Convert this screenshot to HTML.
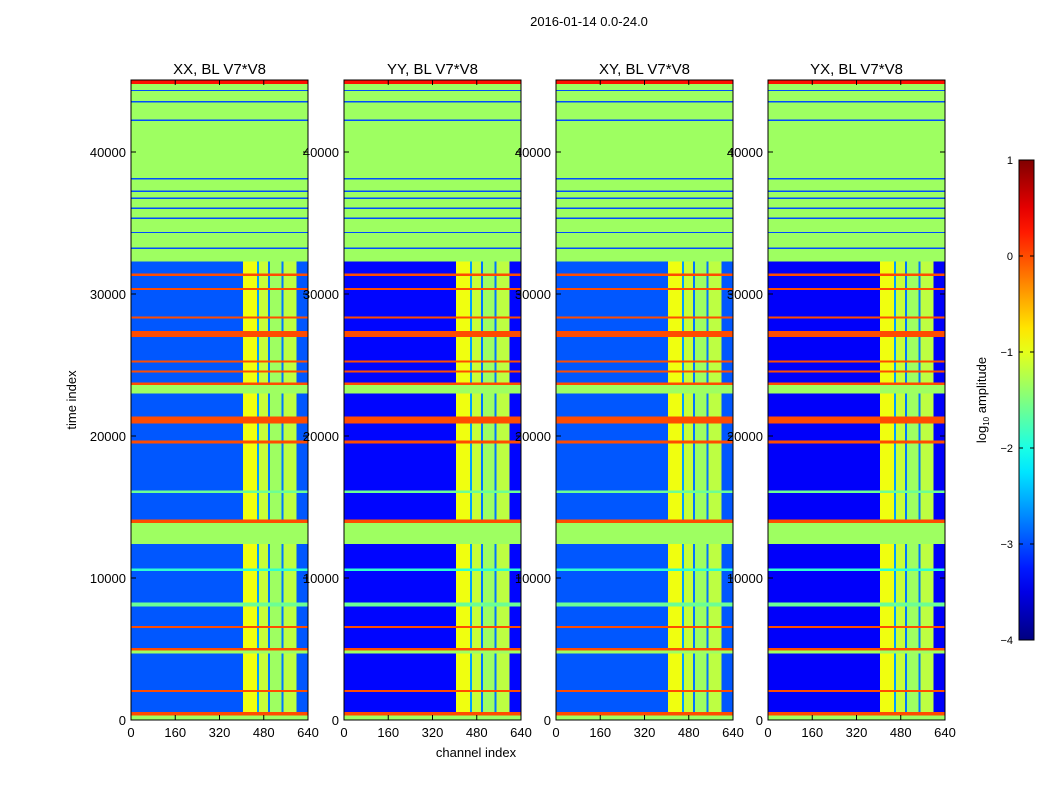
<!DOCTYPE html>
<html><head><meta charset="utf-8"><style>
body{margin:0;background:#fff;}
svg{display:block;font-family:"Liberation Sans",sans-serif;}
</style></head><body>
<svg id="fig" width="1050" height="800" viewBox="0 0 1050 800">
<text x="589" y="26" font-size="13" text-anchor="middle">2016-01-14 0.0-24.0</text>
<text x="76" y="400" font-size="13" text-anchor="middle" transform="rotate(-90 76 400)">time index</text>
<text x="476" y="757" font-size="13" text-anchor="middle">channel index</text>
<g id="panels"></g>
<defs><linearGradient id="jet" x1="0" y1="1" x2="0" y2="0"></linearGradient></defs>
<g id="cbar"></g>
<text x="986" y="400" font-size="13" text-anchor="middle" transform="rotate(-90 986 400)">log<tspan font-size="8" dy="3">10</tspan><tspan dy="-3"> amplitude</tspan></text>
</svg>
<script>
// ---- data ----
const panelTitles = ["XX, BL V7*V8","YY, BL V7*V8","XY, BL V7*V8","YX, BL V7*V8"];
const panelDataBase = [-2.95, -3.35, -2.95, -3.4];
// time bands: start, end, level (null = data row)
const bandStart = [0,350,600,2000,2150,4700,4900,5100,6500,6650,8000,8300,10500,10700,12400,13900,14150,16000,16200,19500,19700,20900,21400,23000,23600,23800,24500,24650,25200,25350,27000,27400,28300,28450,30300,30450,31300,31450,32300,33200,33300,34300,34400,35300,35400,36000,36100,36700,36800,37200,37300,38100,38200,42200,42300,43500,43600,44300,44400,44800];
const bandEnd   = [350,600,2000,2150,4700,4900,5100,6500,6650,8000,8300,10500,10700,12400,13900,14150,16000,16200,19500,19700,20900,21400,23000,23600,23800,24500,24650,25200,25350,27000,27400,28300,28450,30300,30450,31300,31450,32300,33200,33300,34300,34400,35300,35400,36000,36100,36700,36800,37200,37300,38100,38200,42200,42300,43500,43600,44300,44400,44800,45070];
const bandLevel = [-1.35,0,null,0,null,-1.35,0,null,0,null,-1.6,null,-1.9,null,-1.35,0,null,-1.6,null,0,null,0,null,-1.35,0,null,0,null,0,null,0,null,0,null,0,null,0,null,-1.35,-3,-1.35,-3,-1.35,-3,-1.35,-3,-1.35,-3,-1.35,-3,-1.35,-3,-1.35,-3,-1.35,-3,-1.35,-3,-1.35,0.3];
// channel bands: start, end, level (null = data base)
const chanStart = [0,405,455,463,495,502,545,552,598];
const chanEnd   = [405,455,463,495,502,545,552,598,640];
const chanLevel = [null,-0.95,-2.6,-1.15,-2.8,-1.35,-2.8,-1.2,null];
const yTicks = [0,10000,20000,30000,40000];
const xTicks = [0,160,320,480,640];
const cbTicks = [1,0,-1,-2,-3,-4];

// ---- helpers ----
function jet(v){
  let t=(v+4)/5; t=Math.max(0,Math.min(1,t));
  const f=x=>Math.max(0,Math.min(1,x));
  const r=f(1.5-Math.abs(4*t-3)), g=f(1.5-Math.abs(4*t-2)), b=f(1.5-Math.abs(4*t-1));
  return `rgb(${Math.round(r*255)},${Math.round(g*255)},${Math.round(b*255)})`;
}
const NS="http://www.w3.org/2000/svg";
function mk(tag,attrs,parent){const e=document.createElementNS(NS,tag);for(const k in attrs)e.setAttribute(k,attrs[k]);parent.appendChild(e);return e;}
const panelX=[131,344,556,768], PW=177, PT=80, PB=720, TMAX=45070, CMAX=640;
const panels=document.getElementById('panels');
panelX.forEach((px,pi)=>{
  const sx=c=>px+c/CMAX*PW, sy=t=>PB-t/TMAX*(PB-PT);
  const g=mk('g',{},panels);
  
  
  const hm=mk('g',{'shape-rendering':'crispEdges'},g);
  
  
  for(let i=0;i<bandStart.length;i++){
    const y0=sy(bandEnd[i]), y1=sy(bandStart[i]);
    for(let j=0;j<chanStart.length;j++){
      let v=bandLevel[i];
      if(v===null){v=chanLevel[j]===null?panelDataBase[pi]:chanLevel[j];}
      const r=mk('rect',{x:sx(chanStart[j]),y:y0,width:sx(chanEnd[j])-sx(chanStart[j])+0.3,height:y1-y0+0.3,fill:jet(v)},hm);
      
      
    }
  }
  mk('rect',{x:px,y:PT,width:PW,height:PB-PT,fill:'none',stroke:'#000','stroke-width':1},g);
  const t=mk('text',{x:px+PW/2,y:74,'font-size':15,'text-anchor':'middle'},g);
  t.textContent=panelTitles[pi];
  
  
  yTicks.forEach(v=>{
    const y=sy(v);
    mk('line',{x1:px,x2:px+5,y1:y,y2:y,stroke:'#000'},g);
    mk('line',{x1:px+PW-5,x2:px+PW,y1:y,y2:y,stroke:'#000'},g);
    const l=mk('text',{x:px-5,y:y+5,'font-size':13,'text-anchor':'end'},g);
    l.textContent=v;
    
    
  });
  xTicks.forEach(v=>{
    const x=sx(v);
    mk('line',{x1:x,x2:x,y1:PB,y2:PB-5,stroke:'#000'},g);
    mk('line',{x1:x,x2:x,y1:PT,y2:PT+5,stroke:'#000'},g);
    const l=mk('text',{x:x,y:737,'font-size':13,'text-anchor':'middle'},g);
    l.textContent=v;
    
    
  });
});
// colorbar
const grad=document.getElementById('jet');
for(let k=0;k<=20;k++){mk('stop',{offset:(k/20),'stop-color':jet(-4+5*k/20)},grad);}
const cb=document.getElementById('cbar');
const CX=1019,CW=15,CT=160,CB=640;
mk('rect',{x:CX,y:CT,width:CW,height:CB-CT,fill:'url(#jet)',stroke:'#000','stroke-width':1},cb);
cbTicks.forEach(v=>{
  const y=CB-(v+4)/5*(CB-CT);
  mk('line',{x1:CX+CW-4,x2:CX+CW,y1:y,y2:y,stroke:'#000'},cb);
  mk('line',{x1:CX,x2:CX+4,y1:y,y2:y,stroke:'#000'},cb);
  const l=mk('text',{x:CX-6,y:y+4,'font-size':11,'text-anchor':'end'},cb);
  l.textContent=v<0?'\u2212'+(-v):String(v);
  
  
});
</script>
</body></html>
